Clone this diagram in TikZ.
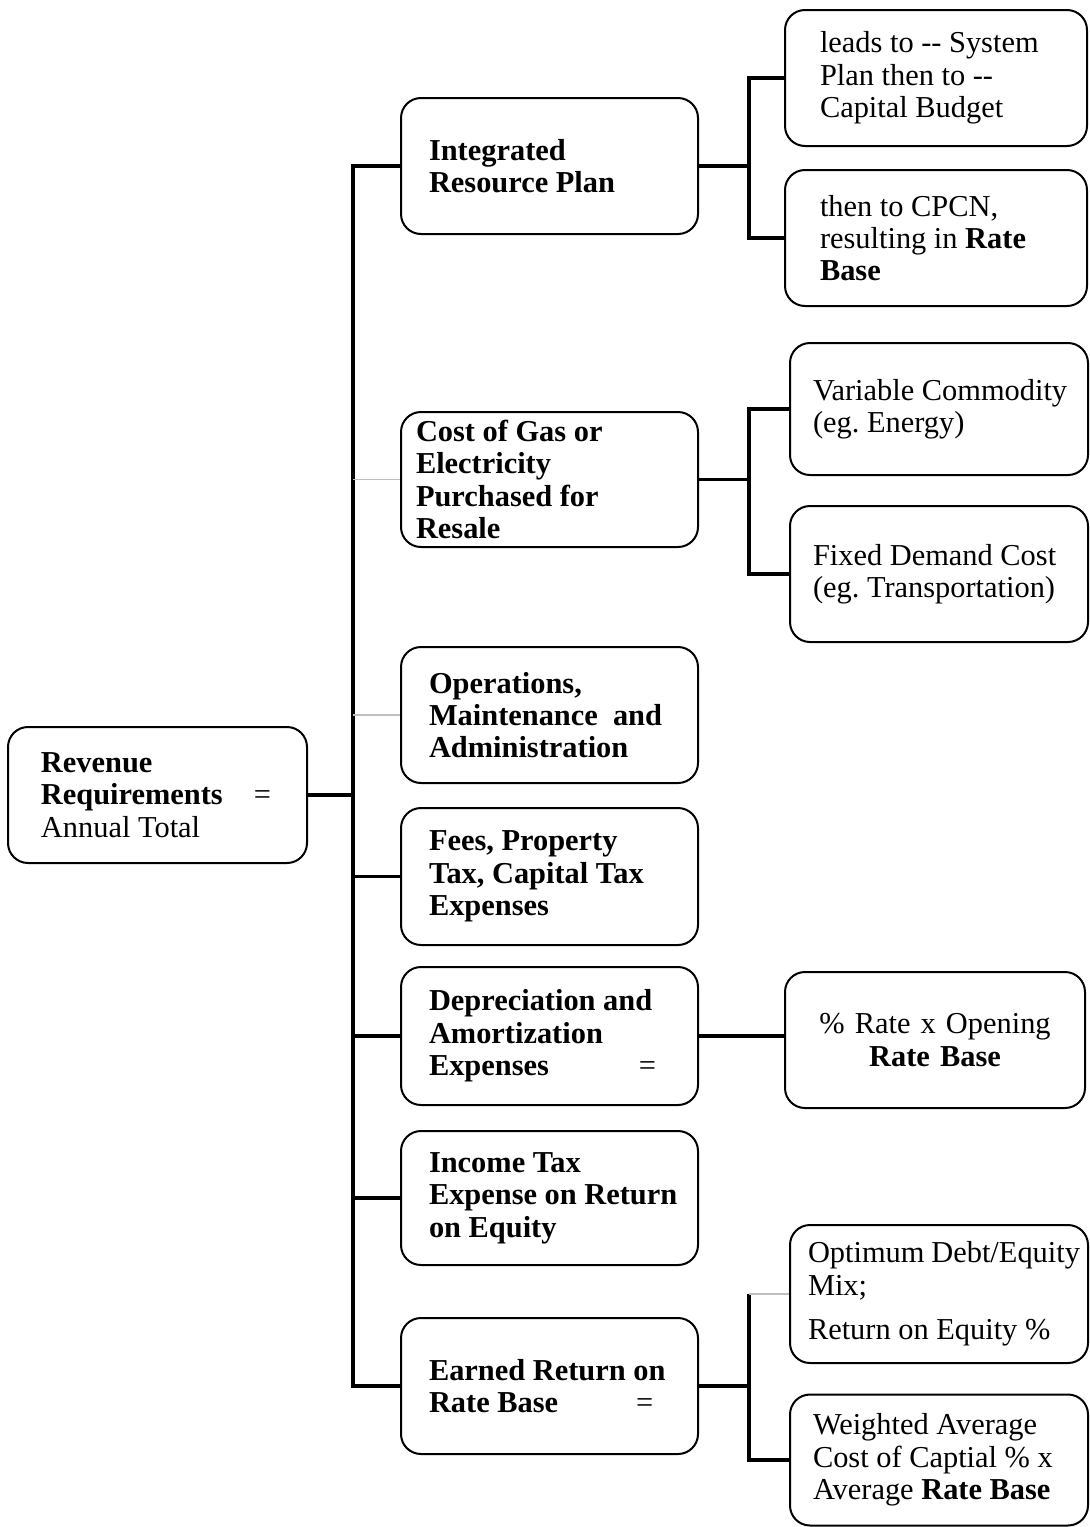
\documentclass[tikz,border=0pt]{standalone}
\usepackage{fontspec}
\setmainfont{Liberation Serif}
\newcommand{\boxfont}{\fontsize{15.2pt}{16.2pt}\selectfont\frenchspacing}

\begin{document}
\begin{tikzpicture}
[x=0.5pt,y=-0.5pt,
every node/.style={shape=rectangle,rounded corners=10pt,draw,line width=1pt,align=flush left,inner xsep=4pt,inner ysep=0pt,font=\boxfont},
inset/.style={execute at begin node={\leftskip=#1}},
cost/.style={font=\boxfont\bfseries,text width=140.5pt,inset=10pt,minimum height=68pt},
item/.style={text width=141pt,inset=7.5pt,minimum height=68pt},
link/.style={line width=1.7pt},
faint/.style={line width=0.6pt,gray!50}]

\useasboundingbox (0,0) rectangle (1089,1527);

\node[text width=141.5pt,inset=12.5pt,minimum height=68pt] (rev) at (157.5,795)
  {\textbf{Revenue}\\\mbox{\textbf{Requirements}\hspace{15.5pt}=}\\Annual Total};

\node[cost] (irp) at (549.5,166) {Integrated\\Resource Plan};
\node[cost,inset=3.5pt,minimum height=67.5pt] (gas) at (549.5,479.5)
  {Cost of Gas or\\Electricity\\Purchased for\\Resale};
\node[cost] (ops) at (549.5,715) {Operations,\\Maintenance\ \ and\\Administration};
\node[cost,minimum height=68.5pt] (fees) at (549.5,876.5) {Fees, Property\\Tax, Capital Tax\\Expenses};
\node[cost,minimum height=69pt] (dep) at (549.5,1036)
  {Depreciation and\\Amortization\\Expenses\hspace{45pt}{\mdseries =}};
\node[cost,minimum height=67pt] (inc) at (549.5,1198) {Income Tax\\Expense on Return\\on Equity};
\node[cost] (earn) at (549.5,1386) {Earned Return on\\Rate Base\hspace{39pt}{\mdseries =}};

\node[item,text width=143pt,inset=13.5pt] (sys) at (936,78)
  {leads to -{}- System\\Plan then to -{}-\\Capital Budget};
\node[item,text width=143pt,inset=13.5pt] (cpcn) at (936,238)
  {then to CPCN,\\resulting in \textbf{Rate}\\\textbf{Base}};
\node[item,minimum height=66pt] (var) at (939,409) {Variable Commodity\\(eg. Energy)};
\node[item] (fixed) at (939,574) {Fixed Demand Cost\\(eg. Transportation)};
\node[align=center,text width=142pt,minimum height=68pt] (pct) at (935,1040)
  {\% Rate x Opening\\\textbf{Rate Base}};
\node[item,inset=5pt,minimum height=69pt] (opt) at (939,1294)
  {Optimum~Debt/Equity\\Mix;\\[6pt]Return on Equity \%};
\node[item,minimum height=65.5pt] (wacc) at (939,1460)
  {Weighted Average\\Cost of Captial \% x\\Average \textbf{Rate Base}};

% trunk
\coordinate (trunk) at (353,0);
\draw[link] (rev.east) -- (rev.east -| trunk);
\draw[link] (irp.west) -| (trunk |- earn.west) -- (earn.west);
\foreach \n in {fees,dep,inc}
  \draw[link] (trunk |- \n.west) -- (\n.west);
\foreach \n in {gas,ops}
  \draw[faint] (trunk |- \n.west) -- (\n.west);

% forks on the right
\draw[link] (irp.east) -- ++(50,0) coordinate (irpfork);
\draw[link] (sys.west) -| (irpfork) |- (cpcn.west);
\draw[link] (gas.east) -- ++(50,0) coordinate (gasfork);
\draw[link] (var.west) -| (gasfork) |- (fixed.west);
\draw[link] (dep.east) -- (dep.east -| pct.west);
\draw[link] (earn.east) -- ++(50,0) coordinate (earnfork);
\draw[link] (earnfork |- opt.west) |- (wacc.west);
\draw[faint] (earnfork |- opt.west) -- (opt.west);
\end{tikzpicture}
\end{document}
